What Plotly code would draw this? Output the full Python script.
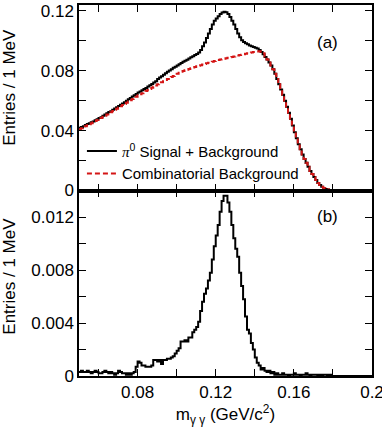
import numpy as np
import plotly.graph_objects as go

# m_gg bins: 1 MeV wide, 0.050 - 0.200 GeV/c^2
bin_lo = 0.050
bin_w = 0.001

# (a) pi0 signal + background, entries / 1 MeV (bins 50..199 MeV)
total = [
    0.042, 0.0425, 0.043, 0.0438, 0.0445, 0.045, 0.0456, 0.0462, 0.047, 0.0476,
    0.0484, 0.049, 0.050, 0.0508, 0.0516, 0.0524, 0.053, 0.054, 0.0548, 0.0556,
    0.0565, 0.0574, 0.0582, 0.059, 0.060, 0.061, 0.0618, 0.0628, 0.0636, 0.0645,
    0.0655, 0.0662, 0.067, 0.0678, 0.0686, 0.0695, 0.0704, 0.0712, 0.0722, 0.073,
    0.0745, 0.0755, 0.0764, 0.0774, 0.0783, 0.0793, 0.0802, 0.081, 0.082, 0.0828,
    0.0836, 0.0844, 0.0852, 0.086, 0.0867, 0.0874, 0.0882, 0.089, 0.0898, 0.0905,
    0.0913, 0.0922, 0.094, 0.0965, 0.099, 0.102, 0.105, 0.108, 0.111, 0.1135,
    0.115, 0.1165, 0.118, 0.119, 0.1195, 0.1192, 0.118, 0.116, 0.1135, 0.111,
    0.108, 0.105, 0.1025, 0.1005, 0.0992, 0.0985, 0.0978, 0.097, 0.0965, 0.096,
    0.0955, 0.095, 0.094, 0.0925, 0.091, 0.0893, 0.0875, 0.0855, 0.0835, 0.081,
    0.078, 0.0745, 0.071, 0.0675, 0.064, 0.060, 0.056, 0.052, 0.048, 0.0435,
    0.039, 0.035, 0.031, 0.0275, 0.024, 0.021, 0.0185, 0.0158, 0.013, 0.011,
    0.009, 0.007, 0.005, 0.0037, 0.0025, 0.0017, 0.001, 0.0006, 0.0003, 0.0001,
    0, 0, 0, 0, 0, 0, 0, 0, 0, 0,
    0, 0, 0, 0, 0, 0, 0, 0, 0, 0,
]

# (a) combinatorial background
combinatorial = [
    0.041, 0.0416, 0.0422, 0.0429, 0.0436, 0.0443, 0.045, 0.0457, 0.0464, 0.0471,
    0.0478, 0.0485, 0.0493, 0.050, 0.0508, 0.0516, 0.0523, 0.0531, 0.0539, 0.0547,
    0.0555, 0.0563, 0.0571, 0.0579, 0.0587, 0.0595, 0.0603, 0.0611, 0.0619, 0.0627,
    0.0636, 0.0643, 0.065, 0.0658, 0.0665, 0.0672, 0.0679, 0.0687, 0.0695, 0.0702,
    0.071, 0.0717, 0.0724, 0.0731, 0.0738, 0.0745, 0.0752, 0.0759, 0.0766, 0.0773,
    0.078, 0.0787, 0.0793, 0.0798, 0.0803, 0.0808, 0.0813, 0.0818, 0.0822, 0.0826,
    0.083, 0.0834, 0.0838, 0.0842, 0.0846, 0.085, 0.0854, 0.0858, 0.0861, 0.0865,
    0.0868, 0.0872, 0.0875, 0.0878, 0.0881, 0.0884, 0.0887, 0.089, 0.0893, 0.0896,
    0.0899, 0.0902, 0.0905, 0.0908, 0.0911, 0.0914, 0.0917, 0.092, 0.0923, 0.0926,
    0.0928, 0.093, 0.0931, 0.0928, 0.0918, 0.0895, 0.0875, 0.0855, 0.0835, 0.081,
    0.078, 0.0745, 0.071, 0.0675, 0.064, 0.060, 0.056, 0.052, 0.048, 0.0435,
    0.039, 0.035, 0.031, 0.0275, 0.024, 0.021, 0.0185, 0.0158, 0.013, 0.011,
    0.009, 0.007, 0.005, 0.0037, 0.0025, 0.0017, 0.001, 0.0006, 0.0003, 0.0001,
    0, 0, 0, 0, 0, 0, 0, 0, 0, 0,
    0, 0, 0, 0, 0, 0, 0, 0, 0, 0,
]

# (b) background-subtracted signal
signal = [
    0.0003, 0.0004, 0.0003, 0.0003, 0.0004, 0.0003, 0.0002, 0.0003, 0.0004, 0.0003,
    0.0002, 0.0002, 0.0003, 0.0004, 0.0003, 0.0002, 0.0003, 0.0002, 0.0001, 0.0002,
    0.0004, 0.0003, 0.0002, 0.0002, 0.0001, 0.0002, 0.0001, 0.0002, 0.0003, 0.0007,
    0.0011, 0.0010, 0.0008, 0.0008, 0.0007, 0.0007, 0.0007, 0.0008, 0.0012, 0.0012,
    0.0011, 0.0012, 0.0009, 0.0012, 0.0012, 0.0013, 0.0013, 0.0014, 0.0015, 0.0017,
    0.0019, 0.0021, 0.0026, 0.0026, 0.0027, 0.0026, 0.0029, 0.0029, 0.0033, 0.0035,
    0.0037, 0.0041, 0.0049, 0.0056, 0.0062, 0.0066, 0.0072, 0.0078, 0.0088, 0.0098,
    0.0106, 0.0114, 0.0124, 0.0132, 0.0136, 0.0136, 0.0131, 0.0124, 0.0114, 0.0104,
    0.0096, 0.0090, 0.0078, 0.0068, 0.0058, 0.0045, 0.0035, 0.0032, 0.0025, 0.0020,
    0.0014, 0.0010, 0.0008, 0.0005, 0.0006, 0.0004, 0.0003, 0.0004, 0.0002, 0.0003,
    0.0001, 0.0002, 0.0001, 0.0001, 0.0002, 0.0001, 0.0001, 0.0, 0.0001, 0.0001,
    0.0002, 0.0001, 0.0001, 0.0, 0.0001, 0.0001, 0.0002, 0.0001, 0.0, 0.0001,
    0.0001, 0.0001, 0.0, 0.0001, 0.0, 0.0001, 0.0001, 0.0, 0.0001, 0.0,
    0, 0, 0, 0, 0, 0, 0, 0, 0, 0,
    0, 0, 0, 0, 0, 0, 0, 0, 0, 0,
]

x_tickvals = [0.06, 0.08, 0.10, 0.12, 0.14, 0.16, 0.18, 0.20]
x_ticktext = ["", "0.08", "", "0.12", "", "0.16", "", "0.2"]
ya_tickvals = [0, 0.02, 0.04, 0.06, 0.08, 0.10, 0.12]
ya_ticktext = ["0", "", "0.04", "", "0.08", "", "0.12"]
yb_tickvals = [0, 0.002, 0.004, 0.006, 0.008, 0.010, 0.012]
yb_ticktext = ["0", "", "0.004", "", "0.008", "", "0.012"]

FONT = "Liberation Sans, Arial, Helvetica, sans-serif"

edges = bin_lo + bin_w * np.arange(len(total) + 1)


def steps(vals):
    # repeat last value so 'hv' draws the final bin
    return list(vals) + [vals[-1]]


fig = go.Figure()

fig.add_trace(go.Scatter(
    x=edges, y=steps(total), mode="lines", line_shape="hv",
    line=dict(color="black", width=2),
    name="<span style='font-family:Liberation Serif'><i>π</i></span><sup>0</sup> Signal + Background",
    xaxis="x", yaxis="y",
))
fig.add_trace(go.Scatter(
    x=edges, y=steps(combinatorial), mode="lines", line_shape="hv",
    line=dict(color="#d41515", width=2, dash="5px,3px"),
    name="Combinatorial Background",
    xaxis="x", yaxis="y",
))
fig.add_trace(go.Scatter(
    x=edges, y=steps(signal), mode="lines", line_shape="hv",
    line=dict(color="black", width=2),
    showlegend=False,
    xaxis="x2", yaxis="y2",
))

axis_common = dict(
    showline=True, linecolor="black", linewidth=1.5, mirror="ticks",
    ticks="inside", ticklen=7, tickwidth=1, tickcolor="black",
    showgrid=False, zeroline=False, automargin=False,
    tickfont=dict(family=FONT, size=17, color="black"),
)

x_range = [0.05, 0.2]

fig.update_layout(
    width=382, height=433,
    margin=dict(l=79, r=10, t=5, b=57),
    paper_bgcolor="white", plot_bgcolor="white",
    font=dict(family=FONT, size=17, color="black"),
    xaxis=dict(
        axis_common, domain=[0, 1], anchor="y", range=x_range,
        tickvals=x_tickvals, ticktext=[""] * len(x_tickvals),
    ),
    yaxis=dict(
        axis_common, domain=[0.5, 1], anchor="x", range=[0, 0.124],
        tickvals=ya_tickvals, ticktext=ya_ticktext,
    ),
    xaxis2=dict(
        axis_common, domain=[0, 1], anchor="y2", range=x_range,
        tickvals=x_tickvals, ticktext=x_ticktext,
        ticklabeloverflow="allow",  # keep the "0.2" label at the right edge
        title=dict(text="m<sub>γ γ</sub> (GeV/c<sup>2</sup>)", font=dict(family=FONT, size=17), standoff=2),
    ),
    yaxis2=dict(
        axis_common, domain=[0, 0.5], anchor="x2", range=[0, 0.0140],
        tickvals=yb_tickvals, ticktext=yb_ticktext,
    ),
    legend=dict(
        x=0.01, y=0.65, xanchor="left", yanchor="top",
        bgcolor="rgba(0,0,0,0)", borderwidth=0,
        font=dict(family=FONT, size=15, color="black"),
        tracegroupgap=0, itemwidth=30,
    ),
    annotations=[
        # y-axis titles for both panels
        dict(text="Entries / 1 MeV", x=-0.236, y=0.779, xref="paper", yref="paper",
             textangle=-90, showarrow=False, xanchor="center", yanchor="middle",
             font=dict(family=FONT, size=17)),
        dict(text="Entries / 1 MeV", x=-0.236, y=0.27, xref="paper", yref="paper",
             textangle=-90, showarrow=False, xanchor="center", yanchor="middle",
             font=dict(family=FONT, size=17)),
        dict(text="(a)", x=0.89, y=0.93, xref="paper", yref="paper",
             showarrow=False, font=dict(family=FONT, size=17)),
        dict(text="(b)", x=0.89, y=0.43, xref="paper", yref="paper",
             showarrow=False, font=dict(family=FONT, size=17)),
    ],
)

# drop the browser's default body margin so the figure sits at the page corner
fig.write_html("out.html", config={"displayModeBar": False},
               post_script="document.body.style.margin='0';")
